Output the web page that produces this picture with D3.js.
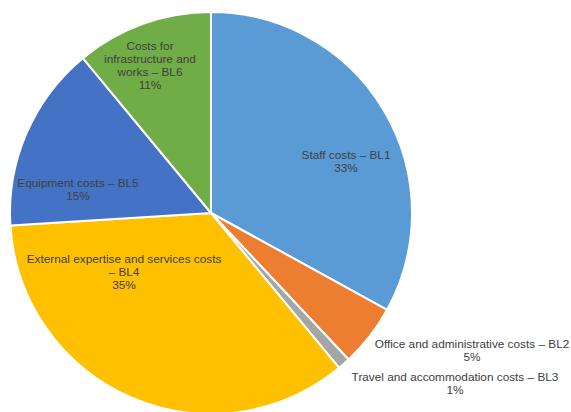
<!DOCTYPE html>
<html>
<head>
<meta charset="utf-8">
<script src="https://cdn.jsdelivr.net/npm/d3@7"></script>
<style>
  html, body { margin: 0; padding: 0; background: #fff; }
  svg { display: block; }
  text { font-family: "Liberation Sans", Arial, sans-serif; font-size: 11.8px; fill: #404040; }
</style>
</head>
<body>
<svg id="chart" width="571" height="412"></svg>
<script>
// Budget lines and their shares (%)
const categories = [
  "Staff costs – BL1",
  "Office and administrative costs – BL2",
  "Travel and accommodation costs – BL3",
  "External expertise and services costs – BL4",
  "Equipment costs – BL5",
  "Costs for infrastructure and works – BL6"
];
const values = [33, 5, 1, 35, 15, 11];
const colors = ["#5B9BD5", "#ED7D31", "#A5A5A5", "#FFC000", "#4472C4", "#70AD47"];

// Label lines as they wrap on the chart
const labelLines = [
  ["Staff costs – BL1"],
  ["Office and administrative costs – BL2"],
  ["Travel and accommodation costs – BL3"],
  ["External expertise and services costs", "– BL4"],
  ["Equipment costs – BL5"],
  ["Costs for", "infrastructure and", "works – BL6"]
];

// Layout: pie geometry and label anchor (first line baseline) per slice
const cx = 211, cy = 213, radius = 201;
const labelAnchors = [
  [346, 159], [472, 348], [455, 381], [124, 263], [78, 187], [150, 50]
];
const lineHeight = 13;

const svg = d3.select("#chart");
const g = svg.append("g").attr("transform", `translate(${cx},${cy})`);

const pie = d3.pie().sort(null).value(d => d)(values);
const arc = d3.arc().innerRadius(0).outerRadius(radius);

g.selectAll("path.slice")
  .data(pie)
  .join("path")
  .attr("class", "slice")
  .attr("d", arc)
  .attr("fill", (d, i) => colors[i])
  .attr("stroke", "#fff")
  .attr("stroke-width", 2)
  .attr("stroke-linejoin", "round");

const labels = svg.selectAll("text.lbl")
  .data(pie)
  .join("text")
  .attr("class", "lbl")
  .attr("text-anchor", "middle")
  .attr("x", (d, i) => labelAnchors[i][0])
  .attr("y", (d, i) => labelAnchors[i][1]);

labels.each(function (d, i) {
  const t = d3.select(this);
  const lines = labelLines[i].concat([d3.format(".0f")(values[i]) + "%"]);
  lines.forEach((ln, k) => {
    t.append("tspan")
      .attr("x", labelAnchors[i][0])
      .attr("dy", k === 0 ? 0 : lineHeight)
      .text(ln);
  });
});
</script>
</body>
</html>
